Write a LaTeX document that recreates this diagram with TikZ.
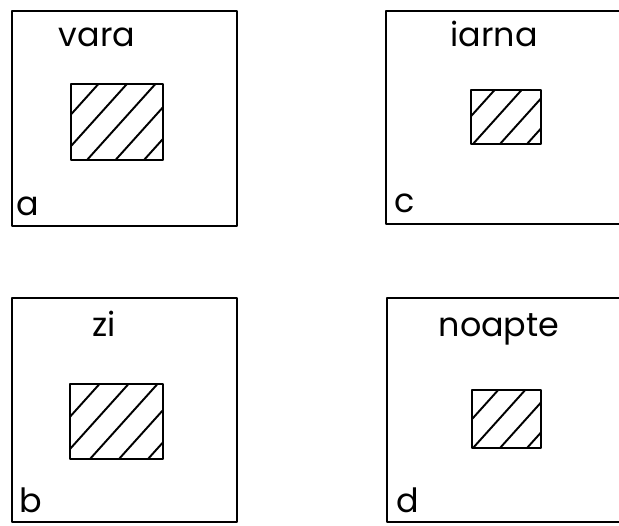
\documentclass[tikz,border=0pt]{standalone}
\usepackage{fontspec}
\usepackage{tikz}
\newfontfamily\lettering{Poppins}

% hatched rectangle: x1, y1, x2, y2, first line, spacing
\newcommand{\hatchrect}[6]{%
  \begin{scope}
    \clip (#1,#2) rectangle (#3,#4);
    \foreach \k in {-4,...,3}
      \draw[hatch] ({#5+\k*#6},#4) -- ++(90,-100);
  \end{scope}
  \draw[frame] (#1,#2) rectangle (#3,#4);}

\begin{document}
\begin{tikzpicture}[x=0.02cm, y=-0.02cm, line join=round, line cap=round,
    frame/.style={line width=1.3pt},
    hatch/.style={line width=1.1pt},
    word/.style={font=\lettering\fontsize{19}{22}\selectfont, inner sep=0pt, anchor=base}]
    \clip (0,0) rectangle (619,526);

    % Khung a, b, c, d
    \draw[frame] (12,11) rectangle (237,226);
    \draw[frame] (12,298) rectangle (237,522);
    \draw[frame] (386,11) rectangle (640,224);
    \draw[frame] (387,298) rectangle (640,522);

    % Tiêu đề
    \node[word] (vara) at (97,47) {vara};
    \node[word] (iarna) at (494,47) {iarna};
    \node[word] (zi) at (104,337) {zi};
    \node[word] (noapte) at (499,337) {noapte};

    % Litere
    \node[word, anchor=base west] (la) at (16,216) {a};
    \node[word, anchor=base west] (lb) at (19,513) {b};
    \node[word, anchor=base west] (lc) at (394,213) {c};
    \node[word, anchor=base west] (ld) at (396,513) {d};

    % Dreptunghiuri hașurate
    \hatchrect{71}{84}{163}{160}{87}{28.5}
    \hatchrect{70}{384}{163}{459}{90}{29}
    \hatchrect{471}{90}{541}{144}{473}{27}
    \hatchrect{472}{390}{541}{448}{473}{27}
\end{tikzpicture}
\end{document}
